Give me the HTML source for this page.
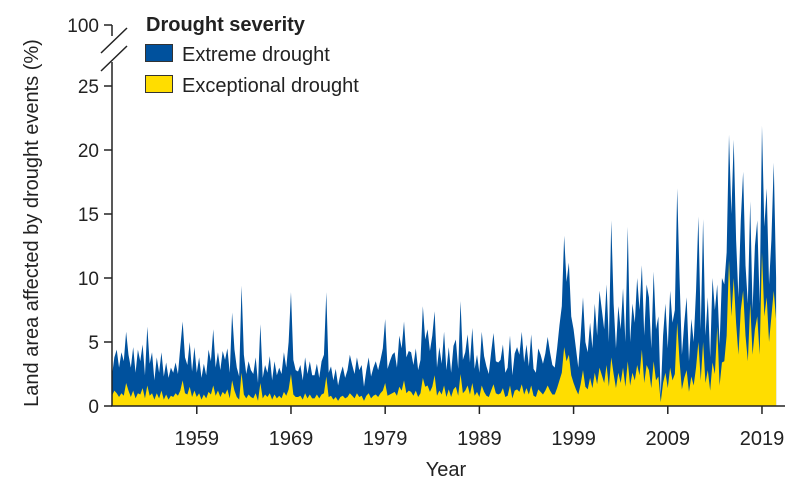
<!DOCTYPE html>
<html><head><meta charset="utf-8"><style>
body{margin:0;background:#fff;}
svg{display:block;font-family:"Liberation Sans",sans-serif;}
</style></head><body>
<svg id="chart" width="800" height="492">
<g id="areas"></g>
<g id="axes"></g>
<g>
<text x="146" y="31" font-size="20" font-weight="bold" fill="#222">Drought severity</text>
<rect x="145.5" y="44.5" width="27" height="17" fill="#00519d" stroke="#333"/>
<text x="182" y="61" font-size="20" fill="#222">Extreme drought</text>
<rect x="145.5" y="75.5" width="27" height="17" fill="#ffdd00" stroke="#333"/>
<text x="182" y="92" font-size="20" fill="#222">Exceptional drought</text>
</g>
<text transform="translate(38,223) rotate(-90)" text-anchor="middle" font-size="20" fill="#222">Land area affected by drought events (%)</text>
<text x="446" y="476" text-anchor="middle" font-size="20" fill="#222">Year</text>
</svg>
<script>
const startYear = 1950;
const stepYears = 0.25;
const totalValues = [
2.4,3.8,4.4,3.0, 4.2,3.5,5.8,4.0, 3.0,4.6,2.6,4.4, 3.5,4.8,2.4,6.2, 3.3,4.2,2.0,3.8,
2.6,4.2,2.3,3.4, 2.2,3.0,2.6,3.4, 2.5,4.6,6.6,3.8, 3.2,5.0,2.7,4.6, 2.6,3.8,2.2,3.3,
2.4,4.4,3.5,6.0, 3.0,4.2,2.8,4.3, 3.6,4.5,2.6,7.3, 4.4,3.0,2.3,9.4, 4.0,2.5,3.5,2.8,
2.5,3.8,1.8,6.4, 2.2,3.2,2.6,3.9, 2.0,3.5,2.4,3.0, 2.5,4.2,3.0,5.0, 8.9,3.6,2.8,2.7,
3.2,2.0,3.8,2.5, 3.5,2.4,2.4,3.3, 2.2,3.5,4.0,8.9, 2.6,3.1,2.0,2.9, 1.6,2.5,3.1,2.2,
2.8,4.0,3.2,2.5, 3.8,2.8,3.2,1.5, 2.8,3.8,2.3,3.0, 3.5,2.8,3.6,4.5, 6.8,2.9,3.5,4.0,
4.2,3.0,5.5,4.5, 6.6,3.8,4.3,4.2, 3.2,4.5,2.8,3.6, 7.8,5.2,6.0,4.3, 5.5,7.4,3.0,4.6,
3.3,5.8,2.8,4.6, 2.6,4.7,5.2,2.9, 8.2,3.6,4.2,5.6, 3.4,6.1,2.9,4.0, 2.6,5.8,3.9,3.1,
2.5,4.2,5.7,3.5, 3.4,3.6,4.8,2.6, 3.0,5.5,2.4,4.1, 4.6,4.0,5.8,3.4, 4.8,3.1,5.6,2.9,
2.6,4.5,4.0,3.3, 4.1,5.4,4.2,3.2, 3.0,4.5,6.3,7.8, 13.3,9.7,11.2,7.0, 6.0,4.5,3.0,5.5,
8.5,5.0,4.2,6.5, 4.5,8.0,5.5,9.0, 7.5,6.0,9.5,5.0, 14.5,8.0,4.5,7.8, 6.0,9.2,5.0,14.0,
5.0,8.0,6.5,10.0, 7.5,11.0,5.5,9.5, 8.5,4.5,10.5,6.0, 7.0,0.8,5.5,8.0, 4.5,9.0,6.5,7.5,
17.0,10.0,4.0,6.5, 8.5,3.5,6.8,5.0, 9.0,14.8,6.0,14.6, 5.5,8.5,3.8,10.0, 7.5,9.5,4.8,10.0,
9.5,12.0,21.2,15.0, 20.8,13.0,8.5,14.5, 18.3,11.0,8.0,16.0, 7.5,12.5,14.5,8.0, 21.9,14.0,17.0,9.5,
13.0,19.0,10.0
];
const exceptionalValues = [
0.8,1.2,1.0,0.7, 1.0,0.8,1.8,1.2, 0.7,1.2,0.6,1.0, 0.9,1.4,0.6,1.6, 0.8,1.0,0.5,1.0,
0.6,1.2,0.5,0.9, 0.5,0.8,0.7,1.0, 0.8,1.2,2.0,1.0, 0.9,1.5,0.7,1.2, 0.7,1.0,0.5,0.9,
0.6,1.1,0.9,1.6, 0.8,1.2,0.7,1.1, 0.9,1.3,0.6,2.0, 1.2,0.7,0.5,2.6, 0.9,0.6,0.9,0.7,
0.6,1.0,0.4,1.8, 0.6,0.9,0.7,1.0, 0.5,0.9,0.6,0.8, 0.6,1.1,0.8,1.3, 2.5,0.9,0.7,0.7,
0.8,0.5,1.0,0.6, 0.9,0.6,0.6,0.9, 0.6,0.9,1.0,2.3, 0.7,0.8,0.5,0.7, 0.4,0.7,0.8,0.6,
0.7,1.0,0.8,0.6, 1.0,0.7,0.8,0.4, 0.8,1.0,0.6,0.8, 0.9,0.7,1.0,1.2, 1.8,0.8,0.9,1.0,
1.1,0.8,1.5,1.2, 2.0,1.0,1.2,1.1, 0.8,1.2,0.7,1.0, 2.2,1.5,1.6,1.1, 1.5,2.4,0.8,1.2,
0.9,1.6,0.7,1.3, 0.7,1.3,1.5,0.8, 2.5,1.0,1.2,1.6, 0.9,1.8,0.8,1.1, 0.7,1.6,1.1,0.8,
0.7,1.2,1.7,1.0, 0.9,1.0,1.4,0.7, 0.8,1.6,0.6,1.2, 1.3,1.1,1.7,0.9, 1.4,0.9,1.6,0.8,
0.7,1.3,1.1,0.9, 1.2,1.6,1.2,0.9, 0.9,1.4,2.0,2.6, 4.6,3.5,4.0,2.4, 1.8,1.3,0.9,1.7,
2.8,1.5,1.3,2.2, 1.4,2.6,1.7,3.0, 2.4,1.8,3.2,1.5, 3.8,2.5,1.4,2.6, 1.8,3.0,1.5,3.5,
1.6,2.6,2.0,3.2, 2.4,4.4,1.8,3.2, 2.8,1.4,3.5,2.0, 2.3,0.3,1.8,2.6, 1.4,3.0,2.0,2.5,
6.5,3.5,1.3,2.2, 2.8,1.1,2.3,1.6, 3.0,5.0,2.0,5.0, 1.8,2.8,1.2,3.4, 2.5,6.2,1.6,3.4,
3.5,5.5,11.4,7.0, 10.0,6.5,4.0,7.5, 9.0,5.5,3.5,8.0, 4.0,6.0,7.0,4.0, 12.0,7.0,8.5,5.0,
7.0,9.0,6.7
];
const xTickYears = [1959,1969,1979,1989,1999,2009,2019];
const yTickValues = [0,5,10,15,20,25];
const yTickLabels = ["0","5","10","15","20","25"];

const NS = "http://www.w3.org/2000/svg";
function xScale(yr){ return 112 + (yr - 1950) * 9.42; }
function yScale(v){ return 406 - v * 12.8; }
function mk(tag, attrs, parent){
  const e = document.createElementNS(NS, tag);
  for (const k in attrs) e.setAttribute(k, attrs[k]);
  parent.appendChild(e); return e;
}
function areaPath(vals){
  let d = "M" + xScale(startYear) + "," + yScale(0);
  vals.forEach((v,i)=>{ d += "L" + xScale(startYear + i*stepYears).toFixed(2) + "," + yScale(v).toFixed(2); });
  d += "L" + xScale(startYear + (vals.length-1)*stepYears).toFixed(2) + "," + yScale(0) + "Z";
  return d;
}
const areas = document.getElementById("areas");
const ext = mk("path", {d: areaPath(totalValues), fill:"#00519d"}, areas);


const exc = mk("path", {d: areaPath(exceptionalValues), fill:"#ffdd00"}, areas);



const axes = document.getElementById("axes");
const yl = mk("line", {x1:112,y1:62,x2:112,y2:406.5,stroke:"#222","stroke-width":1.5}, axes);


const yl2 = mk("line", {x1:112,y1:25,x2:112,y2:36,stroke:"#222","stroke-width":1.5}, axes);


[[101,53,127,28],[101,71,127,46]].forEach((c,i)=>{
  const b = mk("line", {x1:c[0],y1:c[1],x2:c[2],y2:c[3],stroke:"#222","stroke-width":1.5}, axes);
  
  
});
const t100 = mk("line", {x1:104,y1:25,x2:112,y2:25,stroke:"#222","stroke-width":1.5}, axes);


const l100 = mk("text", {x:99,y:32,"text-anchor":"end","font-size":19,fill:"#222"}, axes);
l100.textContent = "100";


yTickValues.forEach((v,i)=>{
  const t = mk("line", {x1:104,y1:yScale(v),x2:112,y2:yScale(v),stroke:"#222","stroke-width":1.5}, axes);
  
  
  const l = mk("text", {x:99,y:yScale(v)+7,"text-anchor":"end","font-size":19,fill:"#222"}, axes);
  l.textContent = yTickLabels[i];
  
  
});
const xl = mk("line", {x1:111,y1:406,x2:785,y2:406,stroke:"#222","stroke-width":1.5}, axes);


xTickYears.forEach(yr=>{
  const t = mk("line", {x1:xScale(yr),y1:406,x2:xScale(yr),y2:414,stroke:"#222","stroke-width":1.5}, axes);
  
  
  const l = mk("text", {x:xScale(yr),y:445,"text-anchor":"middle","font-size":20,fill:"#222"}, axes);
  l.textContent = String(yr);
  
  
});
</script>
</body></html>
